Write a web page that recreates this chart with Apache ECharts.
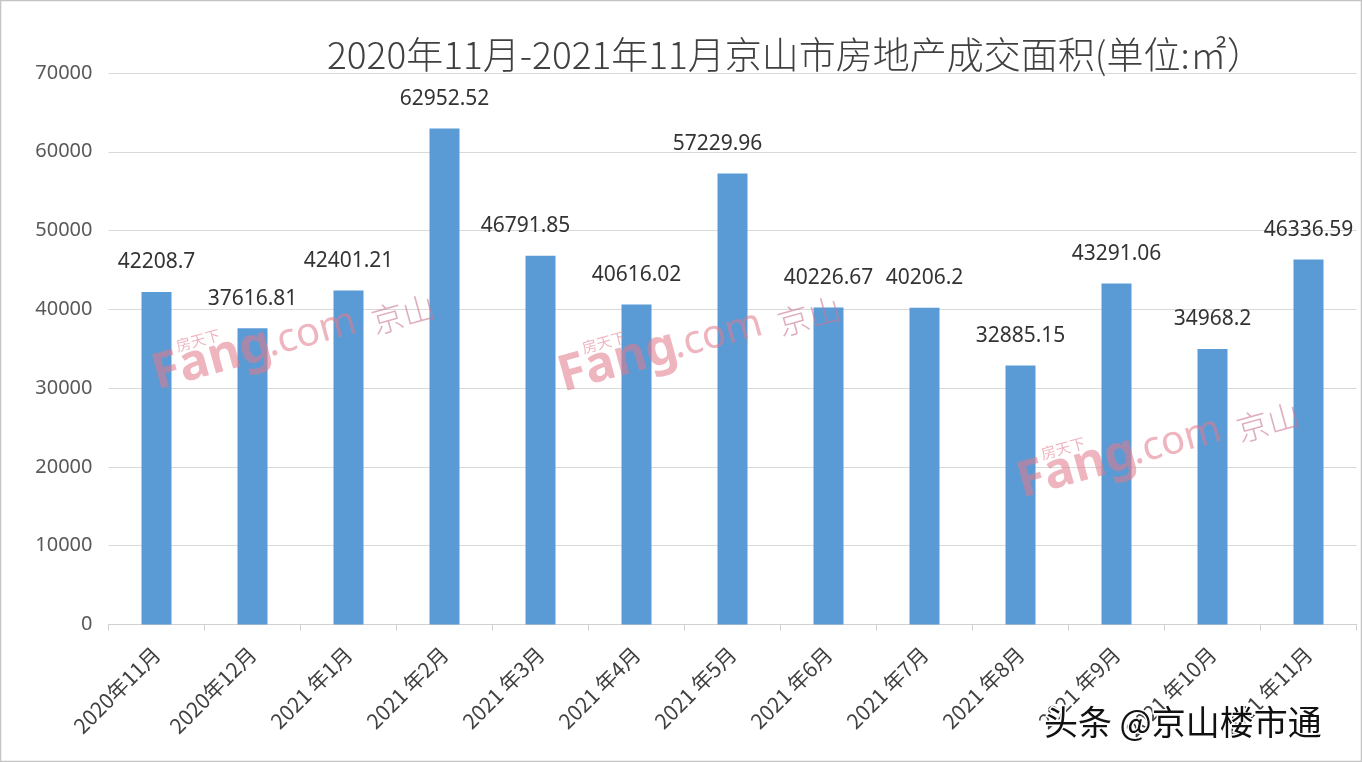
<!DOCTYPE html>
<html>
<head>
<meta charset="utf-8">
<title>京山市房地产成交面积</title>
<script src="https://cdn.jsdelivr.net/npm/echarts@6/dist/echarts.min.js"></script>
<style>
  html, body { margin: 0; padding: 0; background: #fff; }
  #chart { width: 1362px; height: 762px; }
</style>
</head>
<body>
<div id="chart"></div>
<script>
// 月份
const months = [
  '2020年11月', '2020年12月', '2021 年1月', '2021 年2月', '2021 年3月',
  '2021 年4月', '2021 年5月', '2021 年6月', '2021 年7月', '2021 年8月',
  '2021 年9月', '2021 年10月', '2021 年11月'
]

// 成交面积（㎡）
const areas = [
  42208.7, 37616.81, 42401.21, 62952.52, 46791.85,
  40616.02, 57229.96, 40226.67, 40206.2, 32885.15,
  43291.06, 34968.2, 46336.59
]

const titleText = '2020年11月-2021年11月京山市房地产成交面积(单位:㎡）'
const yMin = 0
const yMax = 70000
const yStep = 10000

const chart = echarts.init(document.getElementById('chart'))

// 部分数据标签略向左偏
const labelShift = { 4: -15, 6: -15 }

// 水印
const pink = 'rgba(226, 120, 138, 0.55)'
const mark = (x, y) => ({
  type: 'group',
  x: x,
  y: y,
  rotation: 0.27,
  silent: true,
  z: 100,
  children: [
    { type: 'text', z: 100, x: 0, y: 0, style: { text: 'Fang', fill: pink, font: 'bold 50px "Noto Sans"', textVerticalAlign: 'bottom' } },
    { type: 'text', z: 100, x: 118, y: -4, style: { text: '.com', fill: pink, font: '40px "Noto Sans"', textVerticalAlign: 'bottom' } },
    { type: 'text', z: 100, x: 30, y: -40, style: { text: '房天下', fill: pink, font: '15px "Noto Sans CJK SC"', textVerticalAlign: 'bottom' } },
    { type: 'text', z: 100, x: 225, y: -2, style: { text: '京山', fill: 'rgba(200, 120, 150, 0.6)', font: '300 32px "Noto Sans CJK SC"', textVerticalAlign: 'bottom' } }
  ]
})

const option = {
  backgroundColor: '#fff',
  animation: false,
  title: {
    text: titleText,
    left: 322,
    top: 31,
    textStyle: {
      color: '#404040',
      fontSize: 37,
      fontWeight: 300,
      fontFamily: '"Noto Sans CJK SC", "Noto Sans"'
    }
  },
  grid: {
    left: 108.5,
    right: 5.5,
    top: 73,
    bottom: 137.5
  },
  xAxis: {
    type: 'category',
    data: months,
    axisLine: { lineStyle: { color: '#d0d0d0' } },
    axisTick: { show: true, length: 6, lineStyle: { color: '#d0d0d0' } },
    axisLabel: {
      rotate: 45,
      interval: 0,
      margin: 26,
      color: '#404040',
      fontSize: 21,
      fontFamily: '"Noto Sans CJK SC", "Noto Sans"'
    }
  },
  yAxis: {
    type: 'value',
    min: yMin,
    max: yMax,
    interval: yStep,
    axisLine: { show: false },
    axisTick: { show: false },
    splitLine: { lineStyle: { color: '#d9d9d9' } },
    axisLabel: {
      margin: 16,
      color: '#595959',
      fontSize: 20,
      fontFamily: '"Noto Sans", sans-serif',
      formatter: v => String(v)
    }
  },
  series: [
    {
      type: 'bar',
      barWidth: 30,
      data: areas.map((v, i) => ({
        value: v,
        label: { offset: [labelShift[i] || 0, 0] }
      })),
      itemStyle: { color: '#5b9bd5' },
      label: {
        show: true,
        position: 'top',
        distance: 19,
        color: '#333',
        fontSize: 21,
        fontFamily: '"Noto Sans", sans-serif'
      }
    }
  ],
  graphic: [
    {
      type: 'rect',
      shape: { x: 0.5, y: 0.5, width: 1361, height: 761 },
      style: { fill: 'none', stroke: '#c4c4c4', lineWidth: 1.5 },
      silent: true
    },
    mark(160, 400),
    mark(566, 402),
    mark(1025, 508),
    {
      type: 'text',
      x: 1044,
      y: 722,
      z: 100,
      silent: true,
      style: {
        text: '头条 @京山楼市通',
        fill: '#111',
        stroke: '#fff',
        lineWidth: 3,
        font: '34px "Noto Sans CJK SC"',
        textVerticalAlign: 'middle'
      }
    }
  ]
}

chart.setOption(option)
window.addEventListener('resize', () => chart.resize())
</script>
</body>
</html>
